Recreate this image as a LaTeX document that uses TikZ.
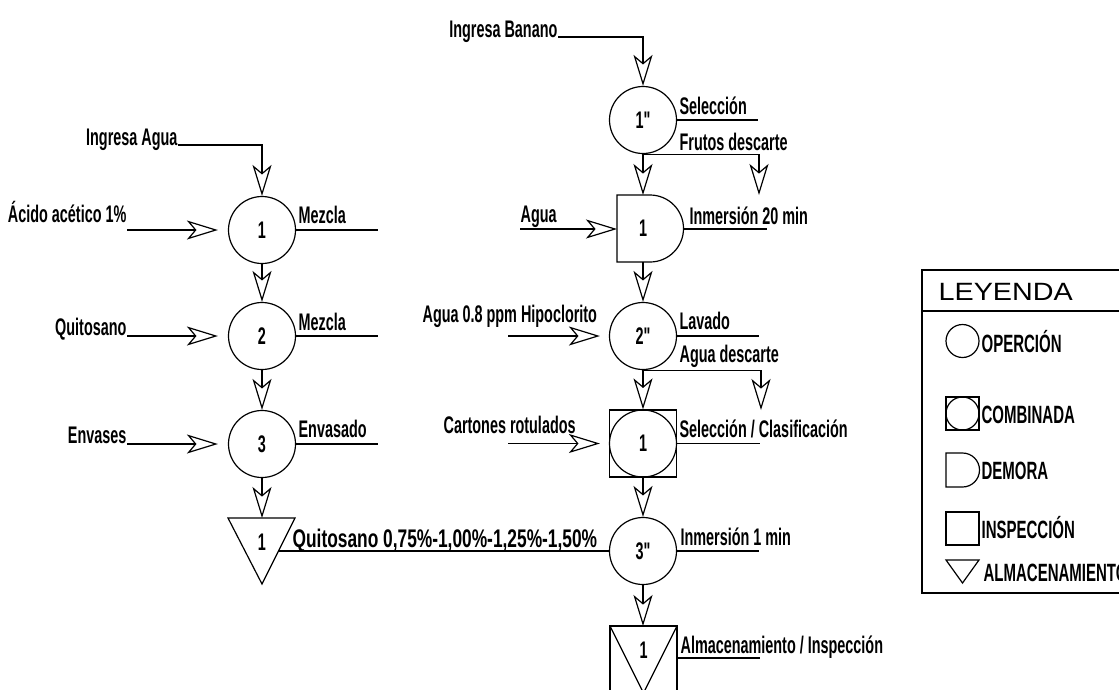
\documentclass[tikz,border=0pt]{standalone}
\usepackage{fontspec}
\usetikzlibrary{arrows.meta}
\newfontfamily\lblfont[FakeStretch=0.6]{Liberation Sans Bold}
\newfontfamily\bigfont[FakeStretch=0.68]{Liberation Sans Bold}
\newfontfamily\legfont[FakeStretch=1.15]{Liberation Sans}
\begin{document}
\begin{tikzpicture}[x=1pt,y=-1pt, line width=1.2pt,
  lbl/.style={font=\lblfont\fontsize{24}{28}\selectfont, inner sep=0pt},
  biglbl/.style={font=\bigfont\fontsize{25.5}{30}\selectfont, inner sep=0pt},
  num/.style={font=\lblfont\fontsize{24}{28}\selectfont, inner sep=0pt},
  opc/.style={circle, draw, minimum size=67pt, inner sep=0pt, num},
  flow/.style={draw, -{Stealth[open,length=31pt,width=19pt,inset=8pt]}},
  legi/.style={font=\lblfont\fontsize{25}{29}\selectfont, inner sep=0pt, anchor=west}]
\useasboundingbox (0,0) rectangle (1119,689);

% ---------- left column ----------
\node[opc] (c1) at (262,230) {1};
\node[opc] (c2) at (262,336) {2};
\node[opc] (c3) at (262,444) {3};
\draw (228,518) -- (295,518) -- (262,584) -- cycle;
\node[num] (s1) at (262,542) {1};
\coordinate (s1top) at (262,518);
\coordinate (s1r) at (278.5,551);

\node[lbl, anchor=base east] (ingagua) at (178,145) {Ingresa Agua};
\draw[flow] (ingagua.base east) -| (c1.north);
\node[lbl, anchor=base east] (acido) at (127,222) {Ácido acético 1\%};
\draw[flow, shorten >=10pt] (acido.east |- c1.west) -- (c1.west);
\node[lbl, anchor=base east] (quito) at (127,335) {Quitosano};
\draw[flow, shorten >=10pt] (quito.east |- c2.west) -- (c2.west);
\node[lbl, anchor=base east] (envases) at (127,443) {Envases};
\draw[flow, shorten >=10pt] (envases.east |- c3.west) -- (c3.west);

\node[lbl, anchor=base west] (mez1) at (298,223) {Mezcla};
\coordinate (mez1e) at (378,230);
\draw (c1.east) -- (mez1e);
\node[lbl, anchor=base west] (mez2) at (298,330.5) {Mezcla};
\coordinate (mez2e) at (378,336);
\draw (c2.east) -- (mez2e);
\node[lbl, anchor=base west] (envd) at (298,437.5) {Envasado};
\coordinate (envde) at (378,444);
\draw (c3.east) -- (envde);

\draw[flow] (c1.south) -- (c2.north);
\draw[flow] (c2.south) -- (c3.north);
\draw[flow] (c3.south) -- (s1top);

% ---------- right column ----------
\node[lbl, anchor=base east] (ingban) at (558,37) {Ingresa Banano};
\node[opc] (r1) at (643,120) {1"};
\draw[flow] (ingban.base east) -| (r1.north);
\node[lbl, anchor=base west] (sel) at (679,114.5) {Selección};
\coordinate (sele) at (758,120);
\draw (r1.east) -- (sele);
\node[lbl, anchor=base west] (frutos) at (679,150) {Frutos descarte};
\coordinate (fdesc) at (759,195);
\draw[flow] (r1.south) -| (fdesc);

% demora
\draw (617,195) -- (650,195) .. controls (668.5,195) and (683.5,210) .. (683.5,228.5)
      .. controls (683.5,247) and (668.5,262) .. (650,262) -- (617,262) -- cycle;
\node[num] (dem) at (643,228) {1};
\coordinate (demtop) at (643,195);
\coordinate (dembot) at (643,262);
\coordinate (demw) at (617,229);
\coordinate (deme) at (683.5,229);
\draw[flow] (r1.south) -- (demtop);
\node[lbl, anchor=base west] (agua) at (520,222) {Agua};
\draw[flow] (agua.west |- demw) -- (demw);
\node[lbl, anchor=base west] (inm20) at (689,224) {Inmersión 20 min};
\coordinate (inm20e) at (767,229);
\draw (deme) -- (inm20e);

\node[opc] (r2) at (643,336) {2"};
\draw[flow] (dembot) -- (r2.north);
\node[lbl, anchor=base west] (hipo) at (422,322) {Agua 0.8 ppm Hipoclorito};
\coordinate (hipos) at (508,336);
\draw[flow, shorten >=9pt] (hipos) -- (r2.west);
\node[lbl, anchor=base west] (lav) at (679,329) {Lavado};
\coordinate (lave) at (759,336);
\draw (r2.east) -- (lave);
\node[lbl, anchor=base west] (aguad) at (679,362) {Agua descarte};
\coordinate (adesc) at (761,410);
\draw[flow] (r2.south) -| (adesc);

\node[draw, minimum size=67pt, inner sep=0pt] (comb) at (643,443.5) {};
\node[opc] (combc) at (643,443.5) {1};
\draw[flow] (r2.south) -- (comb.north);
\node[lbl, anchor=base west] (cart) at (443,433) {Cartones rotulados};
\coordinate (carts) at (508,443.5);
\draw[flow, shorten >=9pt] (carts) -- (comb.west);
\node[lbl, anchor=base west] (selcl) at (679,437) {Selección / Clasificación};
\coordinate (selcle) at (760,443.5);
\draw (comb.east) -- (selcle);

\node[opc] (r3) at (643,551) {3"};
\draw[flow] (comb.south) -- (r3.north);
\node[lbl, anchor=base west] (inm1) at (680,545) {Inmersión 1 min};
\coordinate (inm1e) at (759,551);
\draw (r3.east) -- (inm1e);
\draw (r3.west) -- (s1r);
\node[biglbl, anchor=base west] (quitop) at (292,547) {Quitosano 0,75\%-1,00\%-1,25\%-1,50\%};

\draw (610,626) rectangle (677,693);
\draw (610,626) -- (643.5,693) -- (677,626);
\node[num] (fin) at (643.5,650) {1};
\coordinate (fintop) at (643,626);
\draw[flow] (r3.south) -- (fintop);
\node[lbl, anchor=base west] (almi) at (680,653) {Almacenamiento / Inspección};
\coordinate (almie) at (760,658);
\draw (677,658) -- (almie);

% ---------- legend ----------
\draw (922,270) rectangle (1135,593);
\draw (922,311) -- (1135,311);
\node[font=\legfont\fontsize{25}{30}\selectfont, inner sep=0pt, anchor=west] (ley) at (938,292) {LEYENDA};

\node[circle, draw, minimum size=33pt, inner sep=0pt] (lop) at (962.5,341) {};
\node[legi] (lopt) at (981,342) {OPERCIÓN};

\node[draw, minimum size=33pt, inner sep=0pt] (lcomb) at (962.5,413.5) {};
\node[circle, draw, minimum size=33pt, inner sep=0pt] (lcombc) at (962.5,413.5) {};
\node[legi] (lcombt) at (981,415) {COMBINADA};

\draw (946,453) -- (962.5,453) .. controls (971.9,453) and (979.5,460.6) .. (979.5,470)
      .. controls (979.5,479.4) and (971.9,487) .. (962.5,487) -- (946,487) -- cycle;
\node[legi] (ldemt) at (981,471) {DEMORA};

\node[draw, minimum size=33pt, inner sep=0pt] (lins) at (962.5,528.5) {};
\node[legi] (linst) at (981,528) {INSPECCIÓN};

\draw (946,560) -- (979,560) -- (962.5,583) -- cycle;
\node[legi] (lalmt) at (983,573) {ALMACENAMIENTO};
\end{tikzpicture}
\end{document}
